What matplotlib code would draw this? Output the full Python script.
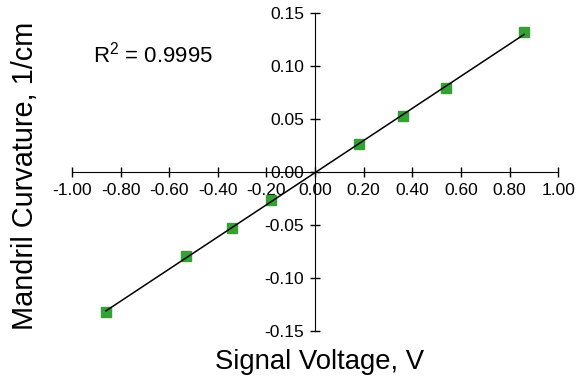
import numpy as np
import matplotlib.pyplot as plt

plt.rcParams['font.family'] = ['Liberation Sans', 'DejaVu Sans']
plt.rcParams['mathtext.fontset'] = 'custom'
plt.rcParams['mathtext.rm'] = 'Liberation Sans'

# measured points
voltage = [-0.86, -0.53, -0.34, -0.18, 0.18, 0.36, 0.54, 0.86]
curvature = [-0.132, -0.079, -0.053, -0.026, 0.026, 0.053, 0.079, 0.132]
x_ticks = [-1.0, -0.8, -0.6, -0.4, -0.2, 0.0, 0.2, 0.4, 0.6, 0.8, 1.0]
y_ticks = [-0.15, -0.10, -0.05, 0.0, 0.05, 0.10, 0.15]

fig = plt.figure(figsize=(5.76, 3.79), dpi=100)
ax = fig.add_axes([0.125, 0.1266, 0.844, 0.839])

# linear fit through data
slope, intercept = np.polyfit(voltage, curvature, 1)
xfit = np.array([min(voltage), max(voltage)])
ax.plot(voltage, curvature, 's', color='#35a035', ms=6.8, mec='#35a035', zorder=2)
ax.plot(xfit, slope * xfit + intercept, color='black', lw=1.1, zorder=3)

ax.set_xlim(-1.0, 1.0)
ax.set_ylim(-0.15, 0.15)
ax.spines['left'].set_position(('data', 0))
ax.spines['bottom'].set_position(('data', 0))
ax.spines['top'].set_visible(False)
ax.spines['right'].set_visible(False)
ax.set_xticks(x_ticks)
ax.set_yticks(y_ticks)
ax.set_xticklabels(['%.2f' % v for v in x_ticks])
ax.set_yticklabels(['%.2f' % v for v in y_ticks])
ax.tick_params(direction='inout', length=7.5, width=1, labelsize=12.5, pad=4)

ax.text(0.043, 0.844, r'R$^\mathrm{2}$ = 0.9995', transform=ax.transAxes,
        fontsize=16, va='baseline')

fig.text(0.043, 0.536, 'Mandril Curvature, 1/cm', rotation=90, fontsize=20.8,
         ha='center', va='center')
fig.text(0.555, 0.045, 'Signal Voltage, V', fontsize=19.8, ha='center', va='center')

fig.savefig('out.png', dpi=100)
